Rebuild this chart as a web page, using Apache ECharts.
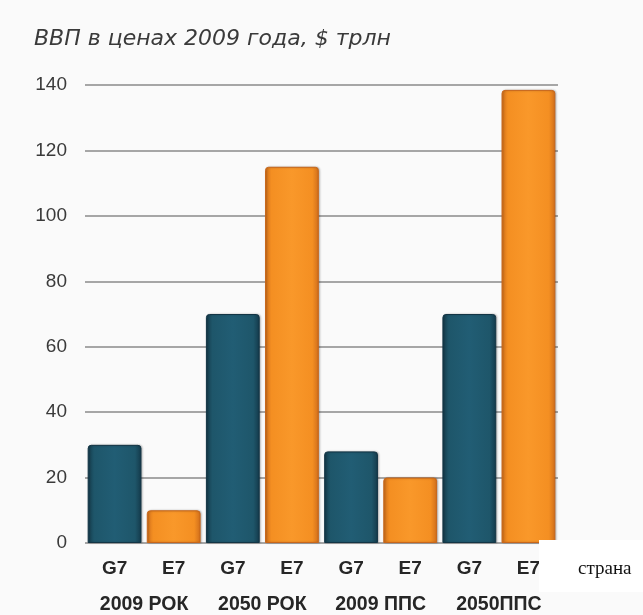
<!DOCTYPE html>
<html>
<head>
<meta charset="utf-8">
<script src="https://cdn.jsdelivr.net/npm/echarts@6/dist/echarts.min.js"></script>
<style>
  html, body { margin: 0; padding: 0; background: #fafafa; }
  #chart { width: 643px; height: 615px; }
</style>
</head>
<body>
<div id="chart"></div>
<script>
// GDP in 2009 prices, $ trillion
const groupLabels = ['2009 РОК', '2050 РОК', '2009 ППС', '2050ППС'];
const seriesNames = ['G7', 'E7'];
const g7Values = [30, 70, 28, 70];
const e7Values = [10, 115, 20, 138.5];
const yTicks = [0, 20, 40, 60, 80, 100, 120, 140];

// Interleave G7 / E7 per group into one category axis
const categories = [];
const values = [];
groupLabels.forEach((g, i) => {
  categories.push(seriesNames[0], seriesNames[1]);
  values.push({ value: g7Values[i], kind: 0 }, { value: e7Values[i], kind: 1 });
});

function barFill(kind) {
  if (kind === 0) {
    return new echarts.graphic.LinearGradient(0, 0, 1, 0, [
      { offset: 0, color: '#153b4b' },
      { offset: 0.12, color: '#1e566a' },
      { offset: 0.5, color: '#215d74' },
      { offset: 0.88, color: '#1e566a' },
      { offset: 1, color: '#14394a' }
    ]);
  }
  return new echarts.graphic.LinearGradient(0, 0, 1, 0, [
    { offset: 0, color: '#d2701c' },
    { offset: 0.12, color: '#f48f22' },
    { offset: 0.5, color: '#f9982a' },
    { offset: 0.88, color: '#f48f22' },
    { offset: 1, color: '#cf6d1b' }
  ]);
}

const chart = echarts.init(document.getElementById('chart'), null, { renderer: 'canvas' });
chart.setOption({
  backgroundColor: '#fafafa',
  animation: false,
  title: {
    text: 'ВВП в ценах 2009 года, $ трлн',
    left: 29,
    top: 23,
    textStyle: {
      fontFamily: 'DejaVu Sans',
      fontStyle: 'italic',
      fontWeight: 'normal',
      fontSize: 22,
      color: '#3a3a3a'
    }
  },
  grid: { left: 85, right: 85, top: 85, bottom: 72, containLabel: false },
  xAxis: [
    {
      type: 'category',
      data: categories,
      axisLine: { show: false },
      axisTick: { show: false },
      axisLabel: {
        interval: 0,
        margin: 16,
        fontFamily: 'Liberation Sans',
        fontWeight: 'bold',
        fontSize: 19,
        color: '#262626'
      }
    },
    {
      type: 'category',
      data: groupLabels,
      position: 'bottom',
      axisLine: { show: false },
      axisTick: { show: false },
      axisLabel: {
        interval: 0,
        hideOverlap: false,
        margin: 52,
        fontFamily: 'Liberation Sans',
        fontWeight: 'bold',
        fontSize: 19.5,
        color: '#262626'
      }
    }
  ],
  yAxis: {
    type: 'value',
    min: yTicks[0],
    max: yTicks[yTicks.length - 1],
    interval: yTicks[1] - yTicks[0],
    axisLine: { show: false },
    axisTick: { show: false },
    axisLabel: {
      margin: 18,
      fontFamily: 'Liberation Sans',
      fontSize: 19,
      color: '#3a3a3a'
    },
    splitLine: { lineStyle: { color: '#8a8a8a', width: 1.5 } }
  },
  series: [
    {
      type: 'bar',
      xAxisIndex: 0,
      barWidth: '91%',
      data: values.map(d => ({
        value: d.value,
        itemStyle: {
          color: barFill(d.kind),
          borderColor: d.kind === 0 ? '#133545' : '#c8661a',
          borderWidth: 1,
          borderRadius: [3, 3, 0, 0],
          shadowColor: 'rgba(0,0,0,0.25)',
          shadowBlur: 2,
          shadowOffsetX: 1
        }
      }))
    }
  ],
  graphic: [
    {
      type: 'rect',
      z: 100,
      shape: { x: 539, y: 540, width: 104, height: 52 },
      style: { fill: '#ffffff' }
    },
    {
      type: 'text',
      z: 101,
      left: 578,
      top: 560,
      style: {
        text: 'страна',
        font: '19px "Liberation Serif"',
        fill: '#111'
      }
    }
  ]
});
</script>
</body>
</html>
